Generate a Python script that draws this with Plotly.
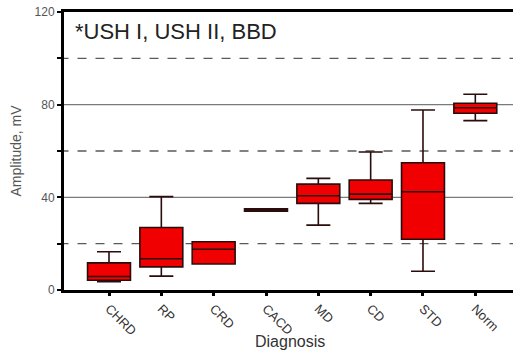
import plotly.graph_objects as go

categories = ["CHRD", "RP", "CRD", "CACD", "MD", "CD", "STD", "Norm"]
lower = [3.6, 6.0, 11.2, 34.0, 28.0, 37.4, 8.1, 73.1]
q1 = [4.2, 10.0, 11.2, 34.0, 37.4, 39.1, 21.9, 76.3]
median = [5.8, 13.5, 17.6, 34.5, 40.7, 41.4, 42.4, 78.7]
q3 = [11.7, 27.0, 20.8, 35.0, 45.7, 47.5, 54.9, 80.6]
upper = [16.5, 40.3, 20.8, 35.0, 48.2, 59.6, 77.7, 84.5]
y_ticks = [0, 40, 80, 120]
solid_grid = [40, 80]
dashed_grid = [20, 60, 100]

FONT = "Arial, Liberation Sans, sans-serif"
xs = list(range(len(categories)))

fig = go.Figure()
fig.add_trace(go.Box(
    x=xs, q1=q1, median=median, q3=q3, lowerfence=lower, upperfence=upper,
    fillcolor="#f00000", line=dict(color="#2b0c0c", width=1.6),
    width=0.82, whiskerwidth=0.56, boxpoints=False, showlegend=False,
    hoverinfo="skip",
))

shapes = []
for v in solid_grid:
    shapes.append(dict(type="line", xref="paper", yref="y", x0=0, x1=1, y0=v, y1=v,
                       line=dict(color="#7a7a7a", width=1.3), layer="below"))
for v in dashed_grid:
    shapes.append(dict(type="line", xref="paper", yref="y", x0=-0.01, x1=1, y0=v, y1=v,
                       line=dict(color="#5a5a5a", width=1.3, dash="dash"), layer="below"))

fig.update_layout(
    width=513, height=356,
    margin=dict(l=64, r=0, t=12, b=66),
    paper_bgcolor="white", plot_bgcolor="white",
    font=dict(family=FONT, color="#444"),
    shapes=shapes,
    annotations=[
        dict(text="*USH I, USH II, BBD", xref="paper", yref="paper",
             x=0.02, y=0.93, xanchor="left", yanchor="middle",
             showarrow=False, font=dict(family=FONT, size=22, color="#222")),
        dict(text="Diagnosis", xref="paper", yref="paper",
             x=(290 - 64) / 449, y=-0.185, xanchor="center", yanchor="middle",
             showarrow=False, font=dict(family=FONT, size=16, color="#333")),
    ],
    xaxis=dict(
        range=[-0.86, 7.72], tickvals=xs, ticktext=categories, tickangle=45,
        showline=True, linewidth=3, linecolor="black", mirror=True,
        ticks="outside", ticklen=3, tickwidth=3, tickcolor="black",
        showgrid=False, zeroline=False,
        tickfont=dict(family=FONT, size=13, color="#333"),
    ),
    yaxis=dict(
        range=[0, 120], tickvals=y_ticks,
        showline=True, linewidth=3, linecolor="black",
        ticks="outside", ticklen=4, tickwidth=2, tickcolor="black",
        minor=dict(tickvals=dashed_grid, ticks="outside", ticklen=4, tickwidth=2, tickcolor="black"),
        showgrid=False, zeroline=False,
        tickfont=dict(family=FONT, size=12, color="#555"),
        title=dict(text="Amplitude, mV", font=dict(family=FONT, size=14, color="#555"), standoff=10),
    ),
)

fig.write_html("out.html")
